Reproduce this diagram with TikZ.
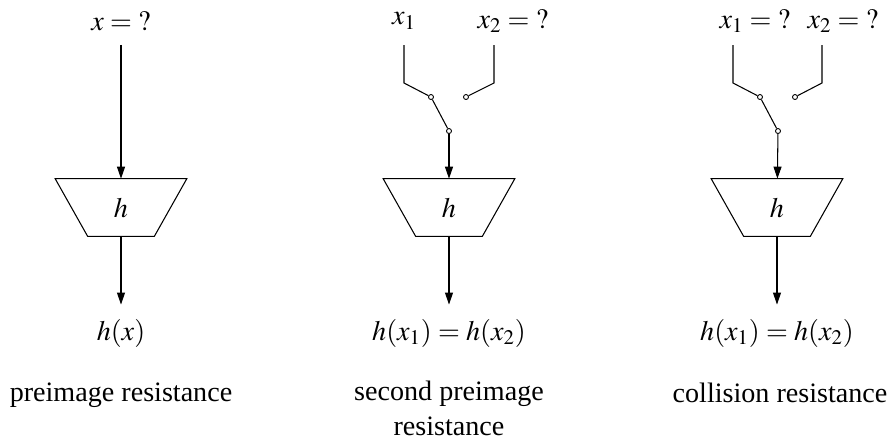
\documentclass[tikz,border=0pt]{standalone}
\usepackage{mathptmx}
\usepackage{fontspec}
\setmainfont{Liberation Serif}
\usetikzlibrary{arrows.meta}
\tikzset{
  hashbox/.style={rectangle,minimum width=2.62cm,minimum height=1.14cm,inner sep=0pt},
  hashline/.style={draw,line width=0.6pt,line join=miter},
  lbl/.style={inner xsep=2pt,inner ysep=8pt},
  caption/.style={align=center},
  contact/.style={circle,draw,fill=white,inner sep=0pt,minimum size=1mm,line width=0.5pt},
  wire/.style={line width=0.6pt},
  arr/.style={-{Triangle[length=2.4mm,width=1.6mm]},line width=0.6pt},
}
\begin{document}
\begin{tikzpicture}[x=0.02cm,y=-0.02cm,font=\fontsize{16}{20}\selectfont]
  \useasboundingbox (0,0) rectangle (887,441);
  % preimage resistance
  \node[hashbox] (hashA) at (121,207.5) {$h$};
  \draw[hashline] (hashA.north west) -- (hashA.north east)
        -- ([xshift=-0.65cm]hashA.south east) -- ([xshift=0.65cm]hashA.south west) -- cycle;
  \node[lbl] (inA) at (121,21) {$x={?}$};
  \node[lbl] (outA) at (121,333) {$h(x)$};
  \node[caption] (capA) at (121,395) {preimage resistance};
  \draw[arr] (inA) -- (hashA);
  \draw[arr] (hashA) -- (outA);

  % second preimage resistance
  \node[hashbox] (hashB) at (449,207.5) {$h$};
  \draw[hashline] (hashB.north west) -- (hashB.north east)
        -- ([xshift=-0.65cm]hashB.south east) -- ([xshift=0.65cm]hashB.south west) -- cycle;
  \node[lbl] (inB1) at (404,21) {$x_1$};
  \node[lbl] (inB2) at (513,21) {$x_2={?}$};
  \coordinate (topB1) at (404,45);
  \coordinate (topB2) at (494,45);
  \coordinate (bendB1) at (404,83);
  \coordinate (bendB2) at (494,83);
  \node[contact] (swB1) at (431,97) {};
  \node[contact] (swB2) at (466,97) {};
  \node[contact] (swB0) at (449,131) {};
  \node[lbl] (outB) at (449,333) {$h(x_1)=h(x_2)$};
  \node[caption] (capB) at (449,408) {second preimage\\resistance};
  \draw[wire] (topB1) -- (bendB1) -- (swB1);
  \draw[wire] (topB2) -- (bendB2) -- (swB2);
  \draw[wire] (swB1) -- (swB0);
  \draw[arr] (swB0) -- (hashB);
  \draw[arr] (hashB) -- (outB);

  % collision resistance
  \node[hashbox] (hashC) at (777,207.5) {$h$};
  \draw[hashline] (hashC.north west) -- (hashC.north east)
        -- ([xshift=-0.65cm]hashC.south east) -- ([xshift=0.65cm]hashC.south west) -- cycle;
  \node[lbl] (inC1) at (755,21) {$x_1={?}$};
  \node[lbl] (inC2) at (843,21) {$x_2={?}$};
  \coordinate (topC1) at (733,45);
  \coordinate (topC2) at (822,45);
  \coordinate (bendC1) at (733,83);
  \coordinate (bendC2) at (822,83);
  \node[contact] (swC1) at (760,97) {};
  \node[contact] (swC2) at (795,97) {};
  \node[contact] (swC0) at (778,131) {};
  \node[lbl] (outC) at (777,333) {$h(x_1)=h(x_2)$};
  \node[caption] (capC) at (780,393) {collision resistance};
  \draw[wire] (topC1) -- (bendC1) -- (swC1);
  \draw[wire] (topC2) -- (bendC2) -- (swC2);
  \draw[wire] (swC1) -- (swC0);
  \draw[arr] (swC0) -- (hashC);
  \draw[arr] (hashC) -- (outC);
\end{tikzpicture}
\end{document}
